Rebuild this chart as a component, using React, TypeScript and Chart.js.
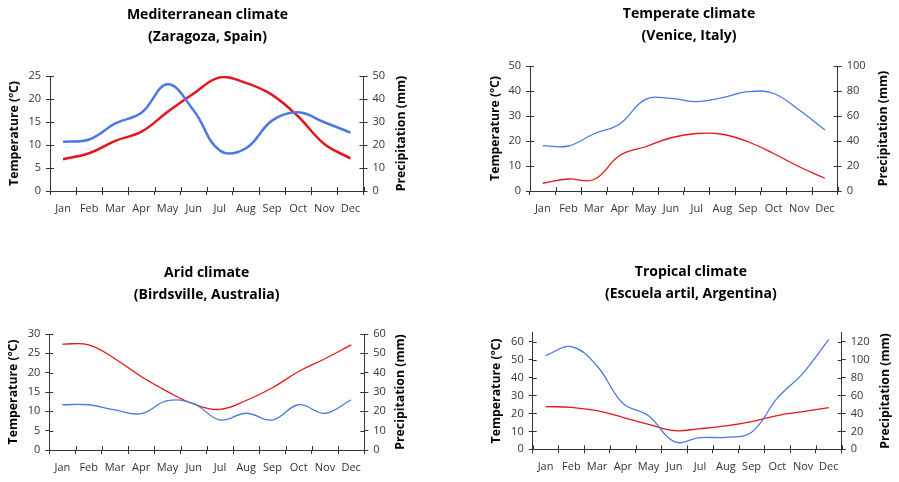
import React, { useEffect, useRef } from "react";
import { Chart, registerables } from "chart.js";

Chart.register(...registerables);

// ---------- data ----------
const months = ["Jan", "Feb", "Mar", "Apr", "May", "Jun", "Jul", "Aug", "Sep", "Oct", "Nov", "Dec"];

const medTemp = [6.9, 8.2, 10.9, 12.9, 17.2, 21.2, 24.7, 23.5, 20.9, 16.2, 10.2, 7.1];
const medPrecip = [21.4, 22.4, 29.4, 34.0, 46.4, 35.0, 17.6, 18.6, 30.6, 34.2, 29.9, 25.4];

const venTemp = [3.1, 4.8, 4.6, 14.2, 17.7, 21.3, 23.0, 22.7, 19.7, 15.0, 9.7, 5.1];
const venPrecip = [36.3, 36.0, 45.8, 53.6, 73.3, 74.1, 71.5, 74.7, 79.5, 78.0, 64.8, 48.8];

const aridTemp = [27.4, 27.2, 23.6, 19.0, 15.1, 11.9, 10.5, 12.8, 16.1, 20.3, 23.6, 27.2];
const aridPrecip = [23.4, 23.4, 20.7, 18.8, 25.5, 24.0, 15.5, 19.0, 15.5, 23.4, 19.0, 26.0];

const tropTemp = [23.8, 23.4, 21.5, 17.8, 13.9, 10.4, 11.5, 13.0, 15.4, 18.8, 21.0, 23.2];
const tropPrecip = [104.4, 114.4, 92.9, 51.3, 37.5, 8.5, 13.0, 13.4, 19.0, 57.0, 85.0, 122.6];

const tempTitle = "Temperature (ºC)";
const precipTitle = "Precipitation (mm)";

// ---------- styles ----------
const RED = "#e3161b";
const BLUE = "#4a79e2";
const AXIS = "#333333";
const TEXT = "#333333";
const FONT = "'Open Sans', sans-serif";
const TITLE_LH = 22.4;
const AXIS_TITLE_SIZE = 12.3;

type Spec = {
  left: number; top: number; width: number; height: number;
  title: string[];
  temp: number[]; precip: number[];
  tMax: number; tStep: number; pMax: number; pStep: number;
  lineWidth: number;
  L: number; R: number; T: number; B: number;
  leftTitleX: number; rightTitleX: number; titleY1: number;
};

const panels: Spec[] = [
  {
    left: 0, top: 0, width: 450, height: 240,
    title: ["Mediterranean climate", "(Zaragoza, Spain)"],
    temp: medTemp, precip: medPrecip,
    tMax: 25, tStep: 5, pMax: 50, pStep: 10, lineWidth: 2.5,
    L: 50, R: 363.5, T: 76, B: 191, leftTitleX: 14, rightTitleX: 401, titleY1: 15,
  },
  {
    left: 450, top: 0, width: 449, height: 240,
    title: ["Temperate climate", "(Venice, Italy)"],
    temp: venTemp, precip: venPrecip,
    tMax: 50, tStep: 10, pMax: 100, pStep: 20, lineWidth: 1.3,
    L: 80, R: 387.7, T: 66, B: 191, leftTitleX: 45, rightTitleX: 433, titleY1: 14,
  },
  {
    left: 0, top: 240, width: 450, height: 242,
    title: ["Arid climate", "(Birdsville, Australia)"],
    temp: aridTemp, precip: aridPrecip,
    tMax: 30, tStep: 5, pMax: 60, pStep: 10, lineWidth: 1.3,
    L: 49.3, R: 364.3, T: 94, B: 210, leftTitleX: 13.3, rightTitleX: 400, titleY1: 32.7,
  },
  {
    left: 450, top: 240, width: 449, height: 242,
    title: ["Tropical climate", "(Escuela artil, Argentina)"],
    temp: tropTemp, precip: tropPrecip,
    tMax: 65, tStep: 10, pMax: 130, pStep: 20, lineWidth: 1.3,
    L: 82.7, R: 391.7, T: 92.7, B: 209.3, leftTitleX: 46.7, rightTitleX: 435, titleY1: 31.7,
  },
];

// draws the inner half of the cross-type tick marks and the right-hand axis title
const decorPlugin = {
  id: "decor",
  afterDraw(chart: any, _args: any, opts: any) {
    const { ctx, chartArea, scales } = chart;
    const x = scales.x, y = scales.y, y1 = scales.y1;
    ctx.save();
    ctx.strokeStyle = AXIS;
    ctx.lineWidth = 1;
    ctx.beginPath();
    const len = 4;
    y.ticks.forEach((_t: any, i: number) => {
      const py = Math.round(y.getPixelForTick(i)) + 0.5;
      ctx.moveTo(chartArea.left, py);
      ctx.lineTo(chartArea.left + len, py);
    });
    y1.ticks.forEach((_t: any, i: number) => {
      const py = Math.round(y1.getPixelForTick(i)) + 0.5;
      ctx.moveTo(chartArea.right - len, py);
      ctx.lineTo(chartArea.right, py);
    });
    const n = x.ticks.length;
    const step = x.getPixelForTick(1) - x.getPixelForTick(0);
    for (let i = 0; i <= n; i++) {
      const px = Math.round(x.getPixelForTick(0) - step / 2 + i * step) + 0.5;
      ctx.moveTo(px, chartArea.bottom - len);
      ctx.lineTo(px, chartArea.bottom);
    }
    ctx.stroke();
    // right axis title, reading bottom to top
    ctx.fillStyle = "#000";
    ctx.font = `bold ${AXIS_TITLE_SIZE}px ${FONT}`;
    ctx.textAlign = "center";
    ctx.textBaseline = "middle";
    ctx.translate(opts.x, (chartArea.top + chartArea.bottom) / 2);
    ctx.rotate(-Math.PI / 2);
    ctx.fillText(opts.text, 0, 0);
    ctx.restore();
  },
};

function Panel({ s }: { s: Spec }) {
  const ref = useRef<HTMLCanvasElement>(null);
  useEffect(() => {
    if (!ref.current) return;
    const titleOff = AXIS_TITLE_SIZE * 1.2 / 2 + 4;
    const pl = s.leftTitleX - titleOff;
    const leftW = s.L - pl;
    const rightEdge = s.rightTitleX + titleOff;
    const rightW = rightEdge - s.R;
    const pr = s.width - rightEdge;
    const tPadTop = s.titleY1 - TITLE_LH / 2;
    const tPadBottom = s.T - tPadTop - 2 * TITLE_LH;
    const xH = s.height - s.B;
    const tickFont = { family: FONT, size: 11 };

    const chart = new Chart(ref.current, {
      type: "line",
      data: {
        labels: months,
        datasets: [
          {
            label: "Precipitation",
            data: s.precip,
            borderColor: BLUE,
            borderWidth: s.lineWidth,
            pointRadius: 0,
            tension: 0.4,
            fill: false,
            yAxisID: "y1",
          },
          {
            label: "Temperature",
            data: s.temp,
            borderColor: RED,
            borderWidth: s.lineWidth,
            pointRadius: 0,
            tension: 0.4,
            fill: false,
            yAxisID: "y",
          },
        ],
      },
      options: {
        responsive: false,
        animation: false,
        events: [],
        layout: { padding: { left: pl, right: pr, top: 0, bottom: 0 } },
        plugins: {
          legend: { display: false },
          tooltip: { enabled: false },
          title: {
            display: true,
            text: s.title,
            color: "#000",
            font: { family: FONT, size: 14, weight: "bold", lineHeight: TITLE_LH / 14 },
            padding: { top: tPadTop, bottom: tPadBottom },
          },
          decor: { x: s.rightTitleX, text: precipTitle },
        } as any,
        scales: {
          x: {
            type: "category",
            offset: true,
            grid: { offset: true, drawOnChartArea: false, drawTicks: true, tickLength: 4, color: AXIS },
            border: { display: true, color: AXIS, width: 1 },
            ticks: { color: TEXT, font: tickFont, padding: 7, maxRotation: 0, autoSkip: false },
            afterFit: (sc: any) => { sc.height = xH; },
          },
          y: {
            position: "left",
            min: 0,
            max: s.tMax,
            grid: { drawOnChartArea: false, drawTicks: true, tickLength: 4, color: AXIS },
            border: { display: true, color: AXIS, width: 1 },
            ticks: { stepSize: s.tStep, includeBounds: false, color: TEXT, font: tickFont, padding: 5 },
            title: {
              display: true,
              text: tempTitle,
              color: "#000",
              font: { family: FONT, size: AXIS_TITLE_SIZE, weight: "bold" },
            },
            afterFit: (sc: any) => { sc.width = leftW; },
          },
          y1: {
            position: "right",
            min: 0,
            max: s.pMax,
            grid: { drawOnChartArea: false, drawTicks: true, tickLength: 4, color: AXIS },
            border: { display: true, color: AXIS, width: 1 },
            ticks: { stepSize: s.pStep, includeBounds: false, color: TEXT, font: tickFont, padding: 5 },
            afterFit: (sc: any) => { sc.width = rightW; },
          },
        },
      } as any,
      plugins: [decorPlugin],
    });
    return () => chart.destroy();
  }, [s]);
  return (
    <canvas
      ref={ref}
      width={s.width}
      height={s.height}
      style={{ position: "absolute", left: s.left, top: s.top, width: s.width, height: s.height }}
    />
  );
}

export default function App() {
  return (
    <div style={{ position: "absolute", left: 0, top: 0, width: 899, height: 482, background: "#fff" }}>
      {panels.map((p, i) => (
        <Panel key={i} s={p} />
      ))}
    </div>
  );
}
